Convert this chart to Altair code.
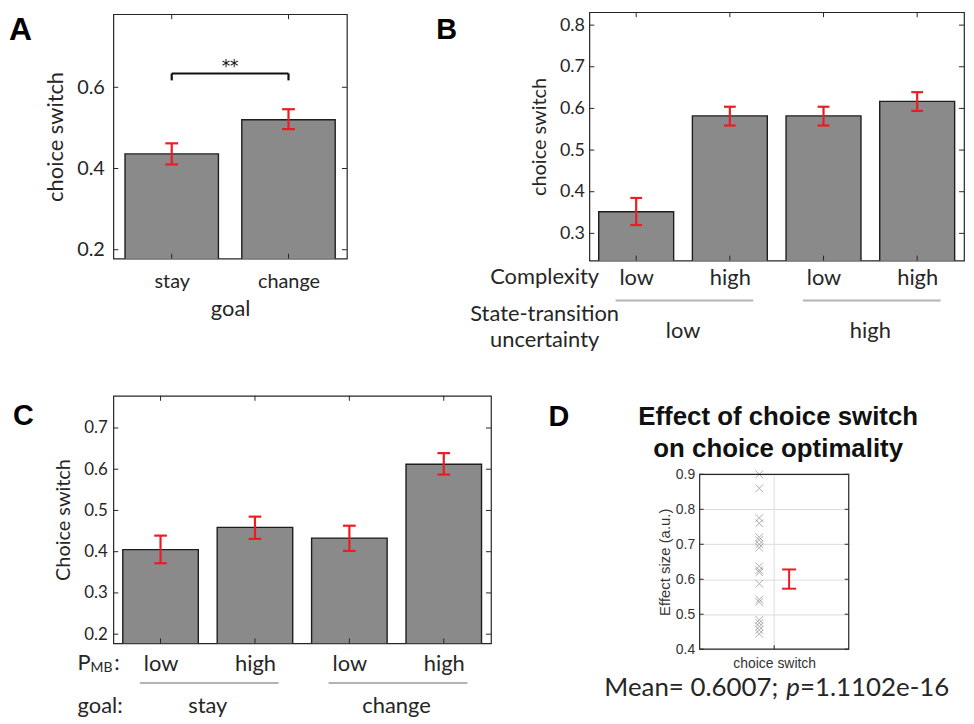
import altair as alt
import pandas as pd

# ---------------- data ----------------
A_GOAL = ["stay", "change"]
A_MEAN = [0.436, 0.520]
A_LO = [0.410, 0.497]
A_HI = [0.462, 0.546]
A_YTICKS = [0.2, 0.4, 0.6]
A_YDOMAIN = [0.178, 0.78]
A_SIG_BARS = [1, 2]
A_SIG_Y = 0.634
A_SIG_LEG = 0.617
A_SIG_TEXT = "**"

B_COMPLEXITY = ["low", "high", "low", "high"]
B_UNCERTAINTY = ["low", "high"]
B_MEAN = [0.352, 0.582, 0.582, 0.617]
B_LO = [0.320, 0.559, 0.559, 0.594]
B_HI = [0.385, 0.604, 0.604, 0.639]
B_YTICKS = [0.3, 0.4, 0.5, 0.6, 0.7, 0.8]
B_YDOMAIN = [0.2345, 0.831]

C_PMB = ["low", "high", "low", "high"]
C_GOAL = ["stay", "change"]
C_MEAN = [0.405, 0.459, 0.433, 0.612]
C_LO = [0.372, 0.431, 0.402, 0.587]
C_HI = [0.439, 0.485, 0.463, 0.639]
C_YTICKS = [0.2, 0.3, 0.4, 0.5, 0.6, 0.7]
C_YDOMAIN = [0.178, 0.778]

D_EFFECTS = [0.900, 0.860, 0.775, 0.760, 0.720, 0.712, 0.700, 0.690, 0.637,
             0.626, 0.620, 0.587, 0.542, 0.535, 0.484, 0.475, 0.465, 0.455, 0.444]
D_MEAN = 0.6007
D_CI = [0.573, 0.628]
D_P = "1.1102e-16"
D_YTICKS = [0.4, 0.5, 0.6, 0.7, 0.8, 0.9]
D_YDOMAIN = [0.4, 0.9]
D_XDOMAIN = [0.5, 1.5]
D_POINT_X = 0.9
D_ERR_X = 1.1
D_TITLE = ["Effect of choice switch", "on choice optimality"]

# ---------------- style ----------------
FONT = "Lato"
FONT_D = "Liberation Sans"
BAR_FILL = "#8a8a8a"
BAR_EDGE = "#1e1e1e"
RED = "#ec1c24"
FRAME = "#262626"
TXT = "#262626"
GROUP_LINE = "#b3b3b3"
GRID_D = "#dcdcdc"
XPATH = "M-1,-1L1,1M-1,1L1,-1"


def text_at(text, x, y, size, font=FONT, weight="normal", align="left",
            style="normal", color=TXT, baseline="alphabetic"):
    return alt.Chart(pd.DataFrame({"t": [text]})).mark_text(
        align=align, baseline=baseline, font=font, fontSize=size,
        fontWeight=weight, fontStyle=style, color=color
    ).encode(x=alt.value(x), y=alt.value(y), text="t:N")


def inner_ticks(values, scale, axis, channel, width, height, n=5):
    c = alt.Chart(pd.DataFrame({"v": values}))
    m = dict(color=FRAME, strokeWidth=1)
    if channel == "y":
        enc = alt.Y("v:Q", scale=scale, axis=axis)
        return [
            c.mark_rule(**m).encode(x=alt.value(0), x2=alt.value(n), y=enc),
            c.mark_rule(**m).encode(x=alt.value(width - n), x2=alt.value(width), y=enc),
        ]
    enc = alt.X("v:Q", scale=scale, axis=axis)
    return [
        c.mark_rule(**m).encode(x=enc, y=alt.value(height), y2=alt.value(height - n)),
        c.mark_rule(**m).encode(x=enc, y=alt.value(0), y2=alt.value(n)),
    ]


def bar_layers(labels, means, lo, hi, ydomain, yticks, width, height, cap,
               yaxis, xaxis):
    n = len(means)
    idx = list(range(1, n + 1))
    df = pd.DataFrame({"i": idx, "label": labels, "mean": means, "lo": lo, "hi": hi})
    xs = alt.Scale(domain=[0.5, n + 0.5], nice=False, zero=False)
    ys = alt.Scale(domain=ydomain, nice=False, zero=False)
    base = alt.Chart(df)
    bars = base.transform_calculate(
        x0="datum.i - 0.4", x1="datum.i + 0.4"
    ).mark_bar(fill=BAR_FILL, stroke=BAR_EDGE, strokeWidth=1.4, clip=True).encode(
        x=alt.X("x0:Q", scale=xs, axis=xaxis),
        x2="x1:Q",
        y=alt.Y("mean:Q", scale=ys, axis=yaxis),
        y2=alt.datum(0),
    )
    stem = base.mark_rule(color=RED, strokeWidth=2.2).encode(
        x=alt.X("i:Q", scale=xs, axis=xaxis),
        y=alt.Y("lo:Q", scale=ys, axis=yaxis),
        y2="hi:Q",
    )
    caps = base.transform_fold(["lo", "hi"], as_=["end", "val"]).transform_calculate(
        c0=f"datum.i - {cap}", c1=f"datum.i + {cap}"
    ).mark_rule(color=RED, strokeWidth=2.2).encode(
        x=alt.X("c0:Q", scale=xs, axis=xaxis),
        x2="c1:Q",
        y=alt.Y("val:Q", scale=ys, axis=yaxis),
    )
    layers = [bars, stem, caps]
    layers += inner_ticks(yticks, ys, yaxis, "y", width, height)
    layers += inner_ticks(idx, xs, xaxis, "x", width, height)
    return xs, ys, layers


def label_expr(labels):
    return "[" + ",".join(f"'{s}'" for s in labels) + "][datum.value - 1]"


def y_axis(values, title, lsize, tsize, lpad, tpad):
    return alt.Axis(values=values, format=".1f", title=title, labelFont=FONT,
                    labelFontSize=lsize, labelColor=TXT, titleFont=FONT,
                    titleFontSize=tsize, titleColor=TXT, titleFontWeight="normal",
                    ticks=False, tickSize=0, domain=False, grid=False,
                    labelPadding=lpad, titlePadding=tpad)


def x_axis(labels, lsize, lpad, title=None, tsize=22, tpad=3):
    kw = dict(values=list(range(1, len(labels) + 1)), labelExpr=label_expr(labels),
              labelFont=FONT, labelFontSize=lsize, labelColor=TXT,
              ticks=False, tickSize=0, domain=False, grid=False, labelPadding=lpad)
    if title:
        kw.update(title=title, titleFont=FONT, titleFontSize=tsize, titleColor=TXT,
                  titleFontWeight="normal", titlePadding=tpad)
    else:
        kw.update(title="")
    return alt.Axis(**kw)


def group_layers(groups, per, xs, xaxis, y_line, y_text, size):
    g = pd.DataFrame({"g": list(range(len(groups))), "name": groups})
    c = alt.Chart(g).transform_calculate(
        s=f"datum.g * {per} + 1 - 0.22",
        e=f"datum.g * {per} + {per} + 0.25",
        m=f"datum.g * {per} + ({per} + 1) / 2",
    )
    line = c.mark_rule(color=GROUP_LINE, strokeWidth=2).encode(
        x=alt.X("s:Q", scale=xs, axis=xaxis), x2="e:Q", y=alt.value(y_line))
    txt = c.mark_text(font=FONT, fontSize=size, color=TXT, baseline="alphabetic").encode(
        x=alt.X("m:Q", scale=xs, axis=xaxis), y=alt.value(y_text), text="name:N")
    return [line, txt]


# ---------------- panel A ----------------
AW, AH = 235, 246
a_x_axis = x_axis(A_GOAL, 20, 13, title="goal", tsize=22, tpad=7)
a_y_axis = y_axis(A_YTICKS, "choice switch", 20, 22, 9, 9)
xsA, ysA, A_layers = bar_layers(A_GOAL, A_MEAN, A_LO, A_HI, A_YDOMAIN, A_YTICKS,
                                AW, AH, 0.055, a_y_axis, a_x_axis)
sig = pd.DataFrame({"x0": [A_SIG_BARS[0]], "x1": [A_SIG_BARS[1]],
                    "y": [A_SIG_Y], "leg": [A_SIG_LEG], "t": [A_SIG_TEXT]})
sig_c = alt.Chart(sig)
A_layers += [
    sig_c.mark_rule(color="#111", strokeWidth=2.2).encode(
        x=alt.X("x0:Q", scale=xsA, axis=a_x_axis), x2="x1:Q",
        y=alt.Y("y:Q", scale=ysA, axis=a_y_axis)),
    sig_c.mark_rule(color="#111", strokeWidth=2.2).encode(
        x=alt.X("x0:Q", scale=xsA, axis=a_x_axis),
        y=alt.Y("leg:Q", scale=ysA, axis=a_y_axis), y2="y:Q"),
    sig_c.mark_rule(color="#111", strokeWidth=2.2).encode(
        x=alt.X("x1:Q", scale=xsA, axis=a_x_axis),
        y=alt.Y("leg:Q", scale=ysA, axis=a_y_axis), y2="y:Q"),
    sig_c.transform_calculate(m="(datum.x0 + datum.x1) / 2", ty="datum.y + 0.004").mark_text(
        font="DejaVu Sans", fontSize=17, color="#111", baseline="alphabetic").encode(
        x=alt.X("m:Q", scale=xsA, axis=a_x_axis),
        y=alt.Y("ty:Q", scale=ysA, axis=a_y_axis), text="t:N"),
    text_at("A", -105, 26, 32, font=FONT_D, weight="bold", color="#000"),
]
panelA = alt.layer(*A_layers).properties(width=AW, height=AH)

# ---------------- panel B ----------------
BW, BH = 377, 250
b_x_axis = x_axis(B_COMPLEXITY, 22, 7)
b_y_axis = y_axis(B_YTICKS, "choice switch", 18, 20, 5, 10)
xsB, ysB, B_layers = bar_layers(B_COMPLEXITY, B_MEAN, B_LO, B_HI, B_YDOMAIN, B_YTICKS,
                                BW, BH, 0.063, b_y_axis, b_x_axis)
B_layers += group_layers(B_UNCERTAINTY, 2, xsB, b_x_axis, BH + 40, BH + 78, 22)
B_layers += [
    text_at("Complexity", -45, BH + 24, 22, align="center"),
    text_at("State-transition", -45, BH + 61, 22, align="center"),
    text_at("uncertainty", -45, BH + 87, 22, align="center"),
    text_at("B", -154, 27, 29, font=FONT_D, weight="bold", color="#000"),
]
panelB = alt.layer(*B_layers).properties(width=BW, height=BH)

# ---------------- panel C ----------------
CW, CH = 380, 249
c_x_axis = x_axis(C_PMB, 22, 10)
c_y_axis = y_axis(C_YTICKS, "Choice switch", 17, 20, 6, 10)
xsC, ysC, C_layers = bar_layers(C_PMB, C_MEAN, C_LO, C_HI, C_YDOMAIN, C_YTICKS,
                                CW, CH, 0.067, c_y_axis, c_x_axis)
C_layers += group_layers(C_GOAL, 2, xsC, c_x_axis, CH + 40, CH + 70, 22)
C_layers += [
    text_at("P", -36, CH + 27, 22),
    text_at("MB", -23, CH + 29, 14),
    text_at(":", 1, CH + 27, 22),
    text_at("goal:", -36, CH + 70, 22),
    text_at("C", -101, 29, 29, font=FONT_D, weight="bold", color="#000"),
]
panelC = alt.layer(*C_layers).properties(width=CW, height=CH)

# ---------------- panel D ----------------
DW, DH, DBOX = 150, 255, 176
xsD = alt.Scale(domain=D_XDOMAIN, nice=False, zero=False)
ysD = alt.Scale(domain=D_YDOMAIN, range=[DH, DH - DBOX], nice=False, zero=False)
d_y_axis = alt.Axis(values=D_YTICKS, format=".1f", title="Effect size (a.u.)",
                    labelFont=FONT_D, labelFontSize=14, labelColor="#333",
                    titleFont=FONT_D, titleFontSize=15, titleColor="#333",
                    titleFontWeight="normal", ticks=False, tickSize=0, domain=False,
                    grid=True, gridColor=GRID_D, gridWidth=1, labelPadding=5,
                    titlePadding=3)
d_x_axis = alt.Axis(values=[1], labels=False, ticks=False, tickSize=0, domain=False,
                    grid=False, title="choice switch", titleFont=FONT_D,
                    titleFontSize=14, titleColor="#333", titleFontWeight="normal",
                    titlePadding=7)
dX = lambda f: alt.X(f, scale=xsD, axis=d_x_axis)
dY = lambda f: alt.Y(f, scale=ysD, axis=d_y_axis)

one = alt.Chart(pd.DataFrame({
    "lo": [D_CI[0]], "hi": [D_CI[1]],
    "xa": [D_XDOMAIN[0]], "xb": [D_XDOMAIN[1]],
    "ya": [D_YDOMAIN[0]], "yb": [D_YDOMAIN[1]],
}))
d_pts = alt.Chart(pd.DataFrame({"effect": D_EFFECTS})).transform_calculate(
    pos=str(D_POINT_X)
).mark_point(shape=XPATH, filled=False, color="#7a7a7a", strokeWidth=1,
             opacity=0.6, size=60).encode(x=dX("pos:Q"), y=dY("effect:Q"))
d_vgrid = one.transform_calculate(c="(datum.xa + datum.xb) / 2").mark_rule(
    color=GRID_D, strokeWidth=1).encode(x=dX("c:Q"), y=dY("ya:Q"), y2="yb:Q")
d_err = one.transform_calculate(p=str(D_ERR_X)).mark_rule(color=RED, strokeWidth=2).encode(
    x=dX("p:Q"), y=dY("lo:Q"), y2="hi:Q")
d_caps = one.transform_fold(["lo", "hi"], as_=["end", "val"]).transform_calculate(
    c0=f"{D_ERR_X} - 0.047", c1=f"{D_ERR_X} + 0.047"
).mark_rule(color=RED, strokeWidth=2).encode(x=dX("c0:Q"), x2="c1:Q", y=dY("val:Q"))
d_frame = one.mark_rect(fillOpacity=0, stroke=FRAME, strokeWidth=1.2).encode(
    x=dX("xa:Q"), x2="xb:Q", y=dY("ya:Q"), y2="yb:Q")
dt = alt.Chart(pd.DataFrame({"v": D_YTICKS}))
d_ticks = [
    dt.mark_rule(color=FRAME).encode(x=alt.value(0), x2=alt.value(4), y=dY("v:Q")),
    dt.mark_rule(color=FRAME).encode(x=alt.value(DW - 4), x2=alt.value(DW), y=dY("v:Q")),
    one.transform_calculate(c="(datum.xa + datum.xb) / 2").mark_rule(color=FRAME).encode(
        x=dX("c:Q"), y=alt.value(DH), y2=alt.value(DH - 4)),
]
D_layers = [d_vgrid, d_pts, d_err, d_caps, d_frame] + d_ticks + [
    text_at(D_TITLE[0], 79, 29, 26, font=FONT_D, weight="bold", align="center", color="#111"),
    text_at(D_TITLE[1], 79, 62, 26, font=FONT_D, weight="bold", align="center", color="#111"),
    text_at(f"Mean= {D_MEAN:.4f};", 79, 302, 26, align="right"),
    text_at("p", 87, 302, 26, style="italic"),
    text_at("=" + D_P, 101, 302, 26),
    text_at("D", -152, 30, 29, font=FONT_D, weight="bold", color="#000"),
]
panelD = alt.layer(*D_layers).properties(
    width=DW, height=DH, view=alt.ViewBackground(stroke="transparent"))

# ---------------- layout ----------------
top = alt.hconcat(panelA, panelB, spacing=244, bounds="flush", center=True)
bottom = alt.hconcat(panelC, panelD, spacing=210, bounds="flush")
chart = alt.vconcat(top, bottom, spacing=42).properties(
    padding=0,
    background="white",
).configure_view(stroke=FRAME, strokeWidth=1.2)

chart.save("out.html", embed_options={"renderer": "svg", "actions": False})
